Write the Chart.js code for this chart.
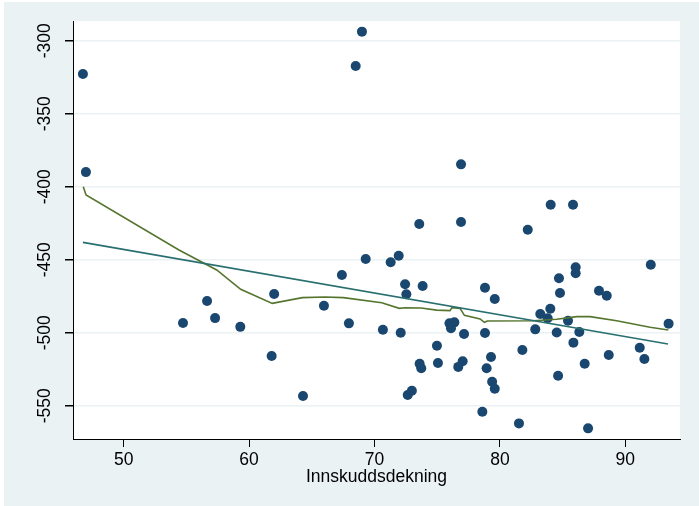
<!DOCTYPE html>
<html>
<head>
<meta charset="utf-8">
<script src="https://cdn.jsdelivr.net/npm/chart.js@4"></script>
<style>
  html, body { margin: 0; padding: 0; background: #ffffff; overflow: hidden; }
  #scatterChart { display: block; }
</style>
</head>
<body>
<canvas id="scatterChart" width="699" height="506"></canvas>
<script>

// Data

const dekning = [46.75, 46.99, 54.73, 56.65, 57.29, 59.3, 61.8, 62.0, 64.3, 65.97, 67.4, 67.96, 68.5, 69.0, 69.3, 70.67, 71.29, 71.93, 72.09, 72.44, 72.54, 73.57, 73.84, 72.65, 72.98, 73.6, 73.73, 74.98, 75.06, 75.98, 76.37, 76.1, 76.68, 77.03, 77.14, 76.9, 76.9, 78.81, 78.81, 78.6, 79.29, 78.94, 79.38, 79.59, 79.59, 81.79, 81.52, 82.22, 82.82, 83.22, 83.81, 84.02, 84.05, 84.53, 84.64, 84.79, 84.71, 85.83, 85.43, 85.86, 86.04, 86.04, 86.33, 86.76, 87.03, 87.9, 88.52, 88.68, 91.15, 91.52, 92.03, 93.45];

const verdi = [-322.8, -390, -493.4, -478.3, -490, -496, -516, -473.5, -543.3, -481.5, -460.5, -493.6, -317.3, -293.8, -449.5, -498, -451.8, -447.3, -500, -466.8, -473.7, -425.5, -468, -542.7, -539.7, -521.2, -524.4, -508.9, -520.8, -493.6, -492.9, -497, -523.4, -519.6, -500.9, -384.7, -424.2, -469.2, -500.2, -554.1, -516.6, -524.4, -533.6, -538.4, -476.9, -511.8, -562.1, -429.5, -497.7, -487.2, -490.1, -483.6, -412.3, -499.8, -529.5, -472.8, -462.7, -412.3, -491.8, -506.8, -455.2, -459.3, -499.5, -521.2, -565.5, -471.2, -474.7, -515.3, -510.3, -518, -453.4, -493.8];

// linear fit (end points)
const fitX = [46.75, 93.4];
const fitY = [-438.1, -507.7];

// lowess curve
const lowessX = [46.78, 47.0, 54.41, 57.42, 59.33, 61.85, 64.25, 66.05, 67.52, 70.58, 71.98, 72.44, 73.71, 74.96, 76.02, 76.16, 76.82, 77.17, 78.42, 78.76, 79.0, 82.66, 84.53, 86.13, 87.19, 89.31, 91.97, 93.43];
const lowessY = [-400, -405.7, -443.3, -457, -470.3, -479.9, -476, -475.5, -476, -479.5, -483.3, -482.9, -483.1, -484.5, -484.9, -482.9, -483.3, -488.1, -490.6, -492.9, -492, -491.8, -490.8, -489, -489, -491.8, -496.3, -498.2];

const xTicks = [50, 60, 70, 80, 90];
const yTicks = [-300, -350, -400, -450, -500, -550];

const xTitle = "Innskuddsdekning";


// helpers

function pairs(xs, ys) {
    return xs.map(function (x, i) { return { x: x, y: ys[i] }; });
}

const bgColor = "#eaf2f3";

// Background: light blue page, white plot region

const backgroundPlugin = {
    id: "stataBackground",
    beforeDraw: function (chart) {
        const ctx = chart.ctx;
        const a = chart.chartArea;
        ctx.save();
        ctx.fillStyle = bgColor;
        ctx.fillRect(4, 2, chart.width - 4, chart.height - 2);
        ctx.fillStyle = "#ffffff";
        ctx.fillRect(a.left, a.top, a.right - a.left, a.bottom - a.top);
        ctx.restore();
    }
};

const tickFont = { family: "'Liberation Sans', Arial, sans-serif", size: 17.5 };

new Chart(document.getElementById("scatterChart"), {

    type: "scatter",

    data: {
        datasets: [{
            label: "points",
            data: pairs(dekning, verdi),
            backgroundColor: "#1a476f",
            borderWidth: 0,
            pointRadius: 5,
            pointHoverRadius: 5,
            order: 1
        }, {
            label: "fit",
            type: "line",
            data: pairs(fitX, fitY),
            borderColor: "#2a6f70",
            borderWidth: 1.6,
            pointRadius: 0,
            fill: false,
            order: 0
        }, {
            label: "lowess",
            type: "line",
            data: pairs(lowessX, lowessY),
            borderColor: "#55752f",
            borderWidth: 1.6,
            pointRadius: 0,
            tension: 0,
            fill: false,
            order: 0
        }]
    },

    options: {
        responsive: false,
        animation: false,
        devicePixelRatio: 1,
        layout: { padding: { left: 0, top: 21, right: 19, bottom: 0 } },
        plugins: {
            legend: { display: false },
            tooltip: { enabled: false }
        },
        scales: {
            x: {
                type: "linear",
                min: 45.96,
                max: 94.36,
                afterBuildTicks: function (scale) {
                    scale.ticks = xTicks.map(function (v) { return { value: v }; });
                },
                afterFit: function (scale) { scale.height = 67; },
                border: { color: "#000000", width: 1 },
                grid: {
                    drawOnChartArea: false,
                    tickLength: 8,
                    tickColor: "#000000"
                },
                ticks: {
                    color: "#000000",
                    font: tickFont,
                    padding: 3,
                    autoSkip: false,
                    maxRotation: 0,
                    minRotation: 0
                },
                title: {
                    display: true,
                    text: xTitle,
                    color: "#000000",
                    font: tickFont,
                    padding: { top: 0, bottom: 18 }
                }
            },
            y: {
                type: "linear",
                min: -572.8,
                max: -286.5,
                afterBuildTicks: function (scale) {
                    scale.ticks = yTicks.map(function (v) { return { value: v }; });
                },
                afterFit: function (scale) { scale.width = 73; },
                border: { color: "#000000", width: 1 },
                grid: {
                    color: bgColor,
                    lineWidth: 1.5,
                    tickLength: 8,
                    tickColor: "#000000"
                },
                ticks: {
                    color: "#000000",
                    font: tickFont,
                    padding: 2,
                    autoSkip: false,
                    minRotation: 90,
                    maxRotation: 90,
                    crossAlign: "center"
                }
            }
        }
    },

    plugins: [backgroundPlugin]

});

</script>
</body>
</html>
